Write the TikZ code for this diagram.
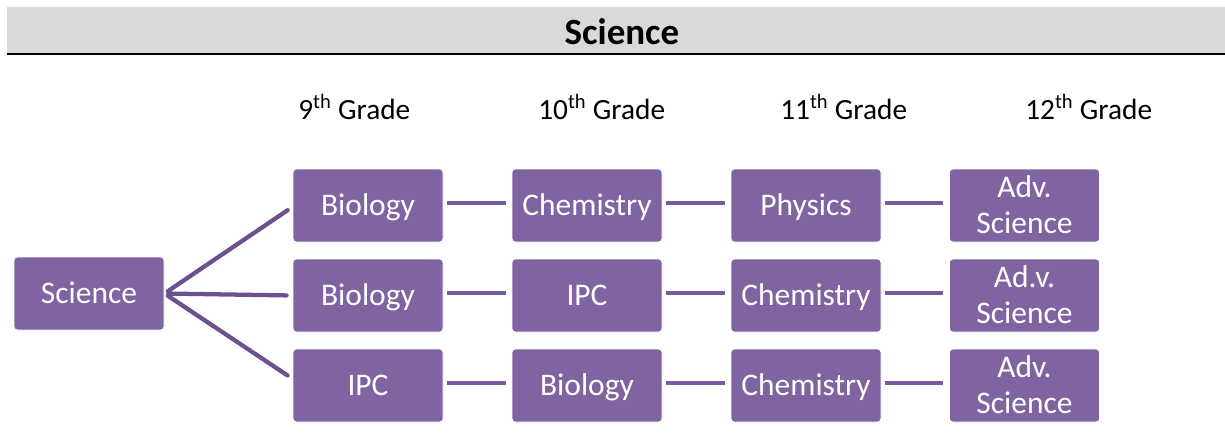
\documentclass[tikz,border=0pt]{standalone}
\usepackage{fontspec}
\setmainfont{Carlito}
\usetikzlibrary{calc}
\definecolor{boxpurple}{HTML}{8064A2}
\definecolor{linepurple}{HTML}{765A99}
\definecolor{fanpurple}{HTML}{6B528E}
\definecolor{headgray}{HTML}{D9D9D9}
\tikzset{
  course/.style={rectangle, rounded corners=2.5pt, fill=boxpurple, draw=white, line width=0.6pt,
    minimum width=112.5pt, minimum height=54.75pt, inner sep=0pt,
    text=white, font=\fontsize{23.6pt}{27pt}\selectfont, text height=15.2pt, text depth=0pt},
  lbl/.style={inner sep=0pt, text=white, font=\fontsize{23.6pt}{27pt}\selectfont, text height=15.2pt, text depth=0pt},
  grade/.style={anchor=base west, inner sep=0pt, font=\fontsize{22pt}{26pt}\selectfont},
  link/.style={draw=linepurple, line width=3.2pt, shorten <=2.5pt, shorten >=4.5pt},
  fan/.style={draw=fanpurple, line width=3.2pt, shorten <=3pt, shorten >=4.5pt, line cap=round}
}
\begin{document}
\begin{tikzpicture}[x=0.75pt, y=-0.75pt]
\useasboundingbox (0,0) rectangle (1225,444);
% header
\fill[headgray] (7,7) rectangle (1225,53);
\fill[black] (7,53) rectangle (1225,55);
\node[font=\fontsize{27.75pt}{32pt}\selectfont\bfseries, inner sep=0pt] (title) at (622,32) {Science};
% grade labels
\node[grade] (g9) at (298,119) {9\textsuperscript{th} Grade};
\node[grade] (g10) at (538,119) {10\textsuperscript{th} Grade};
\node[grade] (g11) at (780,119) {11\textsuperscript{th} Grade};
\node[grade] (g12) at (1025,119) {12\textsuperscript{th} Grade};
% root
\node[course] (sci) at (89,293.5) {Science};
% row 1
\node[course] (a1) at (368,205.5) {Biology};
\node[course] (a2) at (587,205.5) {Chemistry};
\node[course] (a3) at (806,205.5) {Physics};
\node[course] (a4) at (1024.5,205.5) {};
% row 2
\node[course] (b1) at (368,295.5) {Biology};
\node[course] (b2) at (587,295.5) {IPC};
\node[course] (b3) at (806,295.5) {Chemistry};
\node[course] (b4) at (1024.5,295.5) {};
% row 3
\node[course] (c1) at (368,385.5) {IPC};
\node[course] (c2) at (587,385.5) {Biology};
\node[course] (c3) at (806,385.5) {Chemistry};
\node[course] (c4) at (1024.5,385.5) {};
% two-line labels
\node[lbl] (a4t) at ($(a4.center)+(0,-18.5)$) {Adv.};
\node[lbl] (a4b) at ($(a4.center)+(0,17.5)$) {Science};
\node[lbl] (b4t) at ($(b4.center)+(0,-18.5)$) {Ad.v.};
\node[lbl] (b4b) at ($(b4.center)+(0,17.5)$) {Science};
\node[lbl] (c4t) at ($(c4.center)+(0,-18.5)$) {Adv.};
\node[lbl] (c4b) at ($(c4.center)+(0,17.5)$) {Science};
% fan connectors
\draw[fan] (sci.east) -- ([yshift=-1pt]a1.west);
\draw[fan] (sci.east) -- (b1.west);
\draw[fan] (sci.east) -- ([yshift=5pt]c1.west);
% horizontal connectors
\foreach \r in {a,b,c}{
  \draw[link] ([yshift=1.8pt]\r1.east) -- ([yshift=1.8pt]\r2.west);
  \draw[link] ([yshift=1.8pt]\r2.east) -- ([yshift=1.8pt]\r3.west);
  \draw[link] ([yshift=1.8pt]\r3.east) -- ([yshift=1.8pt]\r4.west);
}
\end{tikzpicture}
\end{document}
